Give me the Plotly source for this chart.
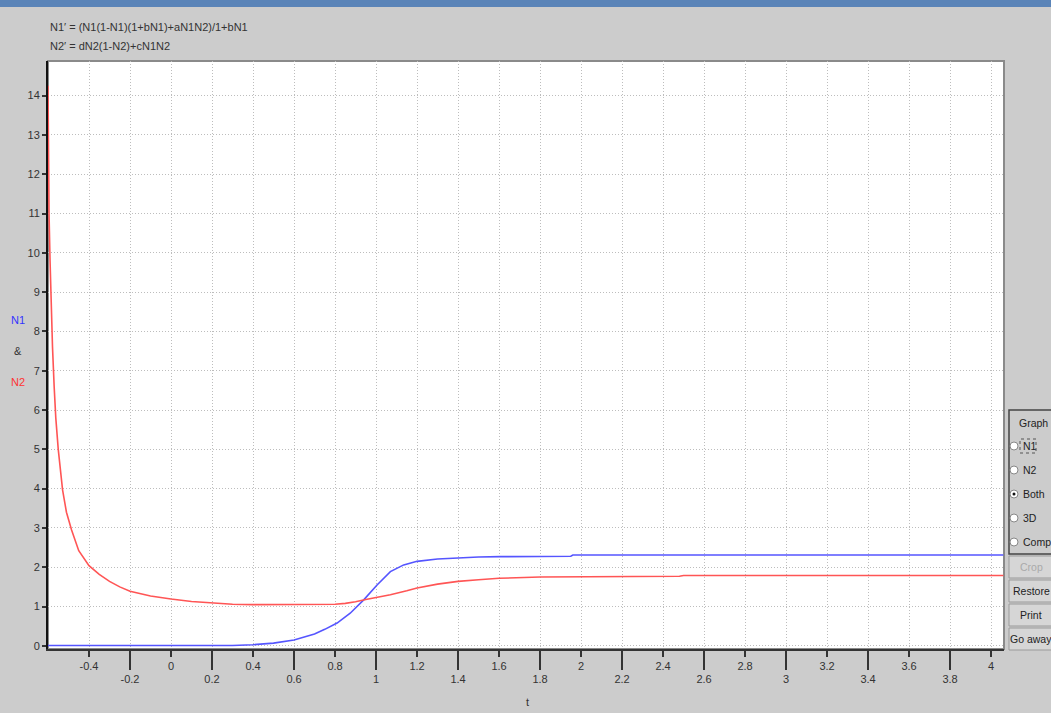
import plotly.graph_objects as go

# ---------------- data ----------------
t_n2 = [-0.600, -0.598, -0.595, -0.590, -0.585, -0.578, -0.570, -0.562, -0.550,
        -0.540, -0.529, -0.510, -0.485, -0.450, -0.400, -0.350, -0.300, -0.250,
        -0.200, -0.100, 0.000, 0.100, 0.200, 0.300, 0.400, 0.500, 0.600, 0.700,
        0.800, 0.850, 0.900, 0.950, 1.000, 1.070, 1.150, 1.200, 1.300, 1.400,
        1.500, 1.600, 1.800, 2.000, 2.200, 2.480, 2.500, 3.000, 3.500, 4.060]
n2 = [14.25, 12.4, 11.0, 9.8, 8.8, 7.6, 6.6, 5.8, 5.0,
      4.45, 3.97, 3.4, 2.95, 2.42, 2.04, 1.82, 1.64, 1.50,
      1.39, 1.27, 1.19, 1.13, 1.09, 1.06, 1.05, 1.05, 1.05, 1.05,
      1.06, 1.08, 1.12, 1.18, 1.23, 1.30, 1.40, 1.47, 1.57, 1.64,
      1.68, 1.72, 1.75, 1.76, 1.77, 1.77, 1.79, 1.79, 1.79, 1.79]

t_n1 = [-0.600, 0.000, 0.300, 0.400, 0.500, 0.600, 0.700, 0.750, 0.810, 0.874,
        0.940, 1.005, 1.070, 1.135, 1.200, 1.300, 1.363, 1.500, 1.607, 1.950,
        1.960, 3.000, 4.060]
n1 = [0.01, 0.01, 0.01, 0.03, 0.07, 0.15, 0.30, 0.42, 0.58, 0.83,
      1.17, 1.55, 1.89, 2.06, 2.15, 2.21, 2.23, 2.26, 2.27, 2.28,
      2.31, 2.31, 2.31]

x_ticks_upper = [-0.4, 0, 0.4, 0.8, 1.2, 1.6, 2, 2.4, 2.8, 3.2, 3.6, 4]
x_ticks_lower = [-0.2, 0.2, 0.6, 1, 1.4, 1.8, 2.2, 2.6, 3, 3.4, 3.8]
y_ticks = list(range(0, 15))

equation_lines = ["N1\u2032 = (N1(1-N1)(1+bN1)+aN1N2)/1+bN1",
                  "N2\u2032 = dN2(1-N2)+cN1N2"]
radio_labels = ["N1", "N2", "Both", "3D", "Comp"]
button_labels = ["Crop", "Restore", "Print", "Go away"]

# ---------------- layout helpers (pixel -> paper) ----------------
W, H = 1051, 713
L, R, T, B = 48, 1004, 61, 649


def px(x):
    return (x - L) / (R - L)


def py(y):
    return (B - y) / (B - T)


FONT = "Liberation Sans, Arial, sans-serif"
TXT = "#333333"
BG = "#cccccc"
GRID = "#bdbdbd"
GDASH = "1px,2px"

fig = go.Figure()
fig.add_trace(go.Scatter(x=t_n1, y=n1, mode="lines", name="N1",
                         line=dict(color="#5555ff", width=1.6), showlegend=False))
fig.add_trace(go.Scatter(x=t_n2, y=n2, mode="lines", name="N2",
                         line=dict(color="#ff5555", width=1.6), showlegend=False))
# helper trace so the second (long-tick) x axis is drawn
fig.add_trace(go.Scatter(x=[], y=[], xaxis="x2", yaxis="y", showlegend=False,
                         hoverinfo="skip"))

xr = [-0.6, 4.063]
yr = [-0.08, 14.88]

fig.update_layout(
    width=W, height=H,
    margin=dict(l=L, r=W - R, t=T, b=H - B),
    paper_bgcolor=BG, plot_bgcolor="white",
    font=dict(family=FONT, size=11, color=TXT),
    xaxis=dict(range=xr, tickmode="array", tickvals=x_ticks_upper,
               ticktext=[f"{v:g}" for v in x_ticks_upper],
               ticks="outside", ticklen=6, tickwidth=2, tickcolor="#333",
               showgrid=True, gridcolor=GRID, griddash=GDASH, gridwidth=1,
               zeroline=False, showline=True, linecolor="#333", linewidth=2,
               tickfont=dict(size=11, color=TXT), fixedrange=True),
    xaxis2=dict(range=xr, overlaying="x", anchor="y", side="bottom",
                tickmode="array", tickvals=x_ticks_lower,
                ticktext=[f"{v:g}" for v in x_ticks_lower],
                ticks="outside", ticklen=20, tickwidth=2, tickcolor="#333",
                showgrid=True, gridcolor=GRID, griddash=GDASH, gridwidth=1,
                zeroline=False, showline=False,
                tickfont=dict(size=11, color=TXT), fixedrange=True),
    yaxis=dict(range=yr, tickmode="array", tickvals=y_ticks,
               ticks="outside", ticklen=4, tickwidth=2, tickcolor="#333",
               showgrid=True, gridcolor=GRID, griddash=GDASH, gridwidth=1,
               zeroline=False, showline=True, linecolor="#111", linewidth=2,
               tickfont=dict(size=11, color=TXT), fixedrange=True),
)

shapes = []
annotations = []

# plot frame (top/right in grey)
shapes.append(dict(type="rect", xref="paper", yref="paper", x0=0, x1=1, y0=0, y1=1,
                   line=dict(color="#8a8a8a", width=2), layer="below"))
# window title bar remnant at top
shapes.append(dict(type="rect", xref="paper", yref="paper",
                   x0=px(0), x1=px(W), y0=py(7), y1=py(0),
                   fillcolor="#5a84b8", line=dict(width=0)))

# equations
for i, line in enumerate(equation_lines):
    annotations.append(dict(text=line, xref="paper", yref="paper",
                            x=px(48), y=py(27 + 19 * i), xanchor="left",
                            yanchor="middle", showarrow=False,
                            font=dict(size=11, color=TXT)))

# y axis label
for txt, yy, col in [("N1", 320, "#3333ff"), ("&", 351, "#333333"), ("N2", 382, "#ff3333")]:
    annotations.append(dict(text=txt, xref="paper", yref="paper", x=px(18), y=py(yy),
                            xanchor="center", yanchor="middle", showarrow=False,
                            font=dict(size=11, color=col)))
# x axis label
annotations.append(dict(text="t", xref="paper", yref="paper", x=px(527), y=py(702),
                        xanchor="center", yanchor="middle", showarrow=False,
                        font=dict(size=11, color=TXT)))

# right control panel: "Graph" group box
shapes.append(dict(type="rect", xref="paper", yref="paper",
                   x0=px(1009), x1=px(1060), y0=py(554), y1=py(410),
                   fillcolor=BG, line=dict(color="#444", width=1.5)))
annotations.append(dict(text="Graph", xref="paper", yref="paper", x=px(1033), y=py(423),
                        xanchor="center", yanchor="middle", showarrow=False,
                        font=dict(size=10.5, color="#222")))
for i, lab in enumerate(radio_labels):
    cy = 446 + 24 * i
    shapes.append(dict(type="circle", xref="paper", yref="paper",
                       x0=px(1010), x1=px(1018), y0=py(cy + 4), y1=py(cy - 4),
                       fillcolor="white", line=dict(color="#888", width=1)))
    if lab == "Both":
        shapes.append(dict(type="circle", xref="paper", yref="paper",
                           x0=px(1012.5), x1=px(1015.5), y0=py(cy + 1.5), y1=py(cy - 1.5),
                           fillcolor="#111", line=dict(width=0)))
    if lab == "N1":
        shapes.append(dict(type="rect", xref="paper", yref="paper",
                           x0=px(1020), x1=px(1036), y0=py(cy + 7), y1=py(cy - 7),
                           line=dict(color="#555", width=1, dash="dot")))
    annotations.append(dict(text=lab, xref="paper", yref="paper", x=px(1021), y=py(cy),
                            xanchor="left", yanchor="middle", showarrow=False,
                            font=dict(size=10.5, color="#222")))

# buttons
for i, lab in enumerate(button_labels):
    top = 556 + 24 * i
    shapes.append(dict(type="rect", xref="paper", yref="paper",
                       x0=px(1009), x1=px(1060), y0=py(top + 22), y1=py(top),
                       fillcolor="#d6d6d6", line=dict(color="#9a9a9a", width=1)))
    annotations.append(dict(text=lab, xref="paper", yref="paper", x=px(1031),
                            y=py(top + 11), xanchor="center", yanchor="middle",
                            showarrow=False,
                            font=dict(size=10.5, color="#aaaaaa" if lab == "Crop" else "#222")))

fig.update_layout(shapes=shapes, annotations=annotations)

fig.write_html("out.html", config={"displayModeBar": False},
               post_script="document.body.style.margin='0';document.body.style.padding='0';"
                           "document.body.style.overflow='hidden';")
